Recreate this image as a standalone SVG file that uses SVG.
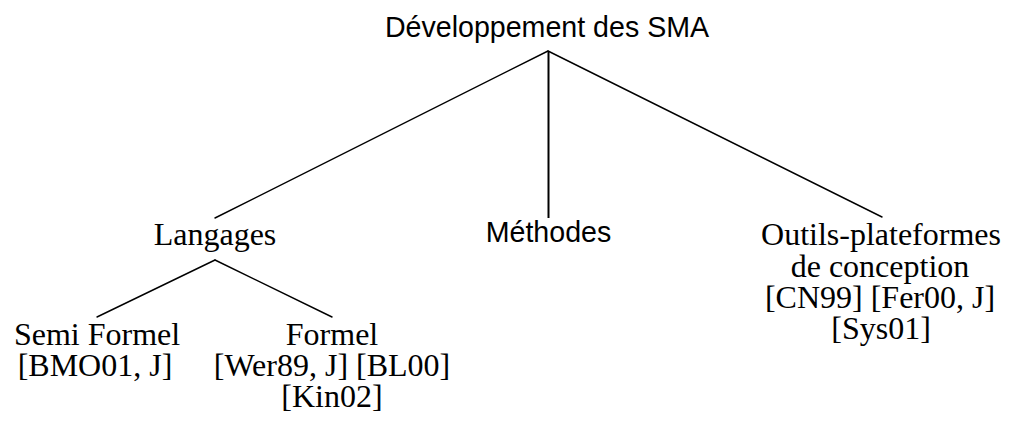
<svg xmlns="http://www.w3.org/2000/svg" width="1010" height="428" viewBox="0 0 1010 428">
  <style>
    .sans { font-family: "Liberation Sans", "DejaVu Sans", sans-serif; font-size: 28.6px; fill: #000; text-anchor: middle; }
    .serif { font-family: "Liberation Serif", "DejaVu Serif", serif; font-size: 32px; fill: #000; text-anchor: middle; }
    .edge { stroke: #000; stroke-width: 1.4; fill: none; stroke-linecap: round; }
    .trunk { stroke: #000; stroke-width: 2; fill: none; }
  </style>
  <rect width="1010" height="428" fill="#fff"/>

  <!-- tree edges -->
  <g id="connectors">
    <line class="edge" x1="548" y1="51" x2="215" y2="218"/>
    <line class="trunk" x1="548.5" y1="51" x2="548.5" y2="218"/>
    <line class="edge" x1="548" y1="51" x2="882" y2="217"/>
    <line class="edge" x1="215" y1="260" x2="97" y2="317"/>
    <line class="edge" x1="215" y1="260" x2="332" y2="317"/>
  </g>

  <g id="root">
    <text class="sans" x="547" y="37">Développement des SMA</text>
  </g>

  <g id="langages">
    <text class="serif" x="215" y="245">Langages</text>
  </g>

  <g id="methodes">
    <text class="sans" x="548.5" y="242">Méthodes</text>
  </g>

  <g id="outils">
    <text class="serif" x="881" y="245">Outils-plateformes</text>
    <text class="serif" x="880" y="277">de conception</text>
    <text class="serif" x="880" y="308">[CN99] [Fer00, J]</text>
    <text class="serif" x="881" y="339">[Sys01]</text>
  </g>

  <g id="semi-formel">
    <text class="serif" x="97" y="345">Semi Formel</text>
    <text class="serif" x="95" y="376">[BMO01, J]</text>
  </g>

  <g id="formel">
    <text class="serif" x="332" y="345">Formel</text>
    <text class="serif" x="332" y="376">[Wer89, J] [BL00]</text>
    <text class="serif" x="332" y="407">[Kin02]</text>
  </g>
</svg>
